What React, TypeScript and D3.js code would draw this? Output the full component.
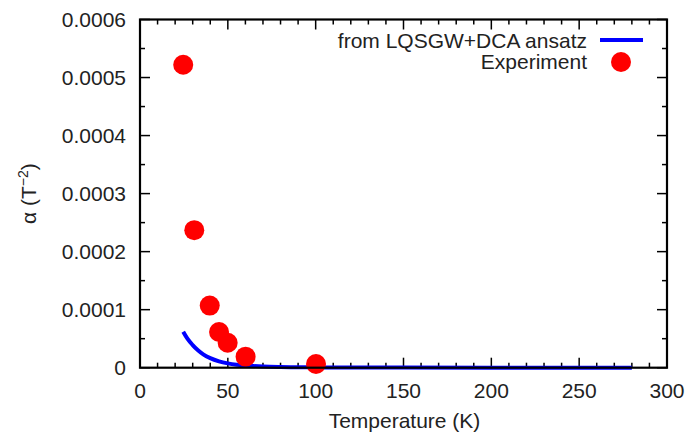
import React from "react";
import * as d3 from "d3";

const xTicks = [0, 50, 100, 150, 200, 250, 300];
const yTicks = [0, 0.0001, 0.0002, 0.0003, 0.0004, 0.0005, 0.0006];
const yTickLabels = ["0", "0.0001", "0.0002", "0.0003", "0.0004", "0.0005", "0.0006"];

const modelT = [24.6, 27, 30, 33, 36, 40, 45, 50, 55, 60, 70, 80, 90, 100, 120, 150, 200, 250, 280];
const modelAlpha = [
  6.2e-5, 5.0e-5, 3.9e-5, 3.0e-5, 2.3e-5, 1.65e-5, 1.1e-5, 0.75e-5, 0.52e-5, 0.38e-5,
  0.2e-5, 0.12e-5, 0.08e-5, 0.05e-5, 0.03e-5, 0.015e-5, 0.008e-5, 0.005e-5, 0.004e-5,
];

const expT = [24.6, 30.9, 39.7, 45, 49.9, 60.1, 100.2];
const expAlpha = [0.000522, 0.000237, 0.000107, 0.0000616, 0.000043, 0.000019, 0.0000064];

const W = 689;
const H = 435;
const L = 140, R = 667, T = 19.5, B = 367.7;
const FONT = "'Liberation Sans', Arial, Helvetica, sans-serif";
const TXT = "#222";

export default function App() {
  const x = d3.scaleLinear().domain([0, 300]).range([L, R]);
  const y = d3.scaleLinear().domain([0, 0.0006]).range([B, T]);
  const line = d3
    .line<number>()
    .x((_, i) => x(modelT[i]))
    .y((d) => y(d))
    .curve(d3.curveMonotoneX);

  const xMinor = d3.range(0, 301, 10).filter((v) => v % 50 !== 0);
  const yMinor = d3.range(0, 13).map((i) => i * 0.00005).filter((_, i) => i % 2 === 1);

  return (
    <svg
      width={W}
      height={H}
      style={{ position: "absolute", left: 0, top: 0, background: "#fff" }}
      fontFamily={FONT}
    >
      <rect x={0} y={0} width={W} height={H} fill="#fff" />
      <g stroke="#000" strokeWidth={1.5}>
        {xTicks.map((v) => (
          <g key={"xt" + v}>
            <line x1={x(v)} x2={x(v)} y1={B} y2={B - 10} />
            <line x1={x(v)} x2={x(v)} y1={T} y2={T + 10} />
          </g>
        ))}
        {xMinor.map((v) => (
          <g key={"xm" + v}>
            <line x1={x(v)} x2={x(v)} y1={B} y2={B - 5} />
            <line x1={x(v)} x2={x(v)} y1={T} y2={T + 5} />
          </g>
        ))}
        {yTicks.map((v) => (
          <g key={"yt" + v}>
            <line x1={L} x2={L + 10} y1={y(v)} y2={y(v)} />
            <line x1={R} x2={R - 10} y1={y(v)} y2={y(v)} />
          </g>
        ))}
        {yMinor.map((v) => (
          <g key={"ym" + v}>
            <line x1={L} x2={L + 5} y1={y(v)} y2={y(v)} />
            <line x1={R} x2={R - 5} y1={y(v)} y2={y(v)} />
          </g>
        ))}
      </g>
      <path d={line(modelAlpha) || ""} fill="none" stroke="#0000ff" strokeWidth={4} />
      {expT.map((t, i) => (
        <circle key={"p" + i} cx={x(t)} cy={y(expAlpha[i])} r={10} fill="#ff0000" />
      ))}
      <rect x={L} y={T} width={R - L} height={B - T} fill="none" stroke="#000" strokeWidth={2.2} />
      <g fontSize={21} fill={TXT}>
        {xTicks.map((v) => (
          <text key={"xl" + v} x={x(v)} y={397.5} textAnchor="middle">
            {v}
          </text>
        ))}
        {yTicks.map((v, i) => (
          <text key={"yl" + v} x={126} y={y(v)} dy="0.35em" textAnchor="end">
            {yTickLabels[i]}
          </text>
        ))}
        <text x={(L + R) / 2} y={428} textAnchor="middle" dx={1}>
          Temperature (K)
        </text>
        <text transform={`translate(36,${(T + B) / 2}) rotate(-90)`} textAnchor="middle">
          α (T
          <tspan fontSize={14} dy={-8}>−2</tspan>
          <tspan dy={8}>)</tspan>
        </text>
        <text x={587} y={40.5} dy="0.35em" textAnchor="end">
          from LQSGW+DCA ansatz
        </text>
        <text x={587} y={61.5} dy="0.35em" textAnchor="end">
          Experiment
        </text>
      </g>
      <line x1={600} x2={643} y1={40} y2={40} stroke="#0000ff" strokeWidth={4} />
      <circle cx={621} cy={62} r={10} fill="#ff0000" />
    </svg>
  );
}
